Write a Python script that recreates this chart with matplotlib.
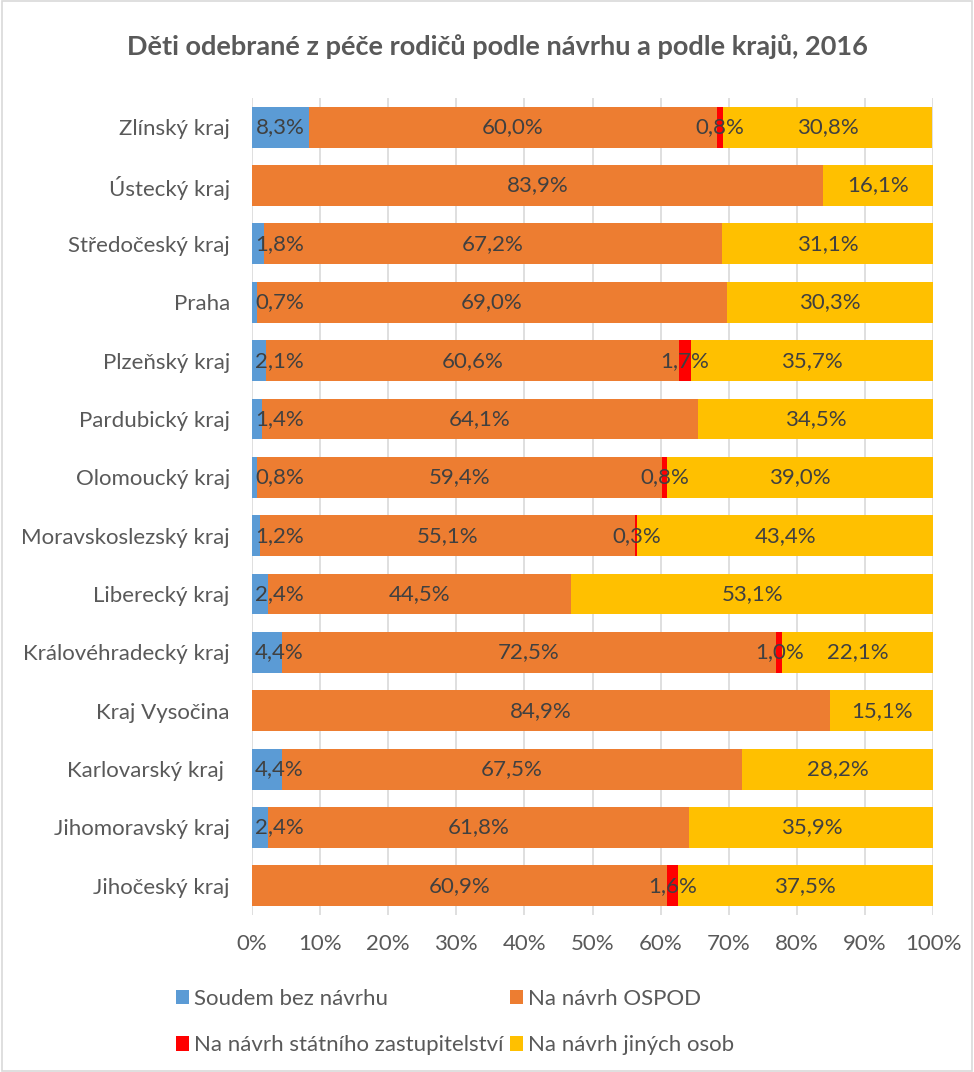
import matplotlib
matplotlib.use("Agg")
import matplotlib.pyplot as plt
from matplotlib.patches import Rectangle, Patch

plt.rcParams['font.family'] = ['Lato', 'DejaVu Sans']

regions = ["Jihočeský kraj", "Jihomoravský kraj", "Karlovarský kraj ", "Kraj Vysočina",
           "Královéhradecký kraj", "Liberecký kraj", "Moravskoslezský kraj", "Olomoucký kraj",
           "Pardubický kraj", "Plzeňský kraj", "Praha", "Středočeský kraj", "Ústecký kraj",
           "Zlínský kraj"]
soudem = [0, 2.4, 4.4, 0, 4.4, 2.4, 1.2, 0.8, 1.4, 2.1, 0.7, 1.8, 0, 8.3]
ospod = [60.9, 61.8, 67.5, 84.9, 72.5, 44.5, 55.1, 59.4, 64.1, 60.6, 69.0, 67.2, 83.9, 60.0]
statni = [1.6, 0, 0, 0, 1.0, 0, 0.3, 0.8, 0, 1.7, 0, 0, 0, 0.8]
jine = [37.5, 35.9, 28.2, 15.1, 22.1, 53.1, 43.4, 39.0, 34.5, 35.7, 30.3, 31.1, 16.1, 30.8]

series = [("Soudem bez návrhu", soudem, "#5B9BD5"),
          ("Na návrh OSPOD", ospod, "#ED7D31"),
          ("Na návrh státního zastupitelství", statni, "#FF0000"),
          ("Na návrh jiných osob", jine, "#FFC000")]

FS = 16
fig = plt.figure(figsize=(9.74, 10.72), dpi=100)
ax = fig.add_axes([252/974, 1-915/1072, (933-252)/974, (915-98)/1072])

y = list(range(len(regions)))
left = [0.0] * len(regions)
txt_col = "#404040"
for si, (name, vals, col) in enumerate(series):
    ax.barh(y, vals, left=left, height=0.7, color=col, label=name, zorder=2)
    for i, v in enumerate(vals):
        if v > 0:
            c = left[i] + v / 2
            lab = f"{v:.1f}%".replace(".", ",")
            if si == 0 and c < 4.0:
                ax.text(0.45, i, lab, ha="left", va="center", fontsize=FS, color=txt_col, zorder=3)
            else:
                ax.text(c, i, lab, ha="center", va="center", fontsize=FS, color=txt_col, zorder=3)
    left = [l + v for l, v in zip(left, vals)]

ax.set_xlim(0, 100)
ax.set_ylim(-0.5, len(regions) - 0.5)
ax.set_xticks(range(0, 101, 10))
ax.set_xticklabels([f"{t}%" for t in range(0, 101, 10)])
ax.set_yticks(y)
ax.set_yticklabels(regions)
ax.tick_params(axis="both", length=0, labelsize=FS, colors="#595959")
ax.tick_params(axis="x", pad=14)
ax.tick_params(axis="y", pad=16)
ax.grid(axis="x", color="#D9D9D9", linewidth=1.2, zorder=0)
ax.set_axisbelow(True)
for s in ax.spines.values():
    s.set_visible(False)

fig.text(497/974, 1-47/1072, "Děti odebrané z péče rodičů podle návrhu a podle krajů, 2016",
         ha="center", va="center", fontsize=19.5, fontweight="bold", color="#595959")

handles = [Patch(facecolor=c, edgecolor="none") for _, _, c in series]
labels = [n for n, _, _ in series]
leg = fig.legend([handles[0], handles[2], handles[1], handles[3]],
                 [labels[0], labels[2], labels[1], labels[3]],
                 ncol=2, loc="center", bbox_to_anchor=(455/974, 1-1022/1072),
                 frameon=False, fontsize=FS, handlelength=0.6, handleheight=0.6,
                 handletextpad=0.2, columnspacing=0.3, labelspacing=1.2, labelcolor="#595959",
                 borderpad=0)

fig.add_artist(Rectangle((0.002, 0.001), 0.996, 0.998, transform=fig.transFigure,
                         fill=False, edgecolor="#D9D9D9", linewidth=1.2))

fig.savefig("out.png", dpi=100)
